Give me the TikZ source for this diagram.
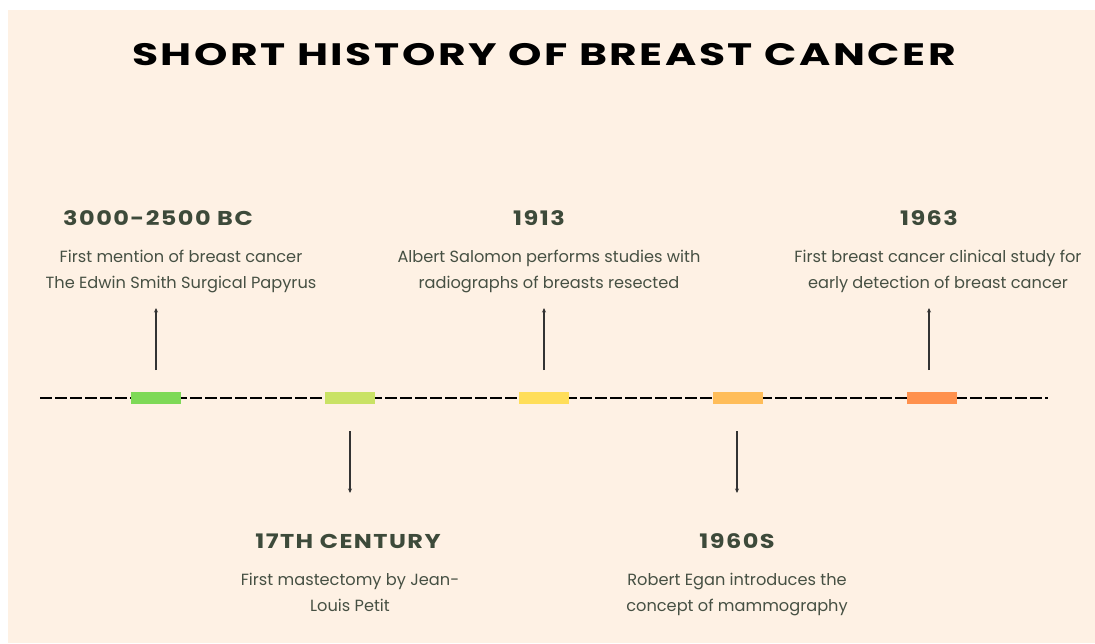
\documentclass[tikz,border=0pt]{standalone}
\usepackage{fontspec}
\setmainfont{Poppins}
\usepackage{graphicx}
\usetikzlibrary{arrows.meta}
\definecolor{bgc}{HTML}{FEF1E4}
\definecolor{headc}{HTML}{3D4A3A}
\definecolor{descc}{HTML}{465043}
\definecolor{cA}{HTML}{7ED957}
\definecolor{cB}{HTML}{C9E265}
\definecolor{cC}{HTML}{FFDE59}
\definecolor{cD}{HTML}{FFBD59}
\definecolor{cE}{HTML}{FF914D}
\newcommand{\headtext}[1]{\scalebox{1.2}[1]{\addfontfeature{LetterSpace=6}#1}}
\newcommand{\titletext}[1]{\scalebox{1.37}[1]{\addfontfeature{LetterSpace=6}#1}}
\tikzset{
  bar/.style={fill=#1, draw=none, minimum width=50pt, minimum height=12.5pt, inner sep=0pt},
  head/.style={anchor=base, inner sep=0pt, text=headc, font=\fontsize{20}{24}\selectfont\bfseries},
  desc/.style={anchor=base, inner sep=0pt, text=descc, align=center, font=\fontsize{16.2}{26}\selectfont},
  pointer/.style={draw=black!80, line width=1.2pt, -{Stealth[length=4.5pt,width=4pt]}},
  timeline/.style={draw=black, line width=2pt, dash pattern=on 11.5pt off 3.5pt}
}
\begin{document}
\begin{tikzpicture}[x=1pt,y=-1pt]
\useasboundingbox (0,0) rectangle (1095,643);
\fill[white] (0,0) rectangle (1095,643);
\fill[bgc] (8,10) rectangle (1095,643);
% title
\node[anchor=base, inner sep=0pt, font=\fontsize{31}{36}\selectfont\bfseries] (title) at (544,65) {\titletext{SHORT HISTORY OF BREAST CANCER}};
% timeline
\coordinate (tl0) at (40,398);
\coordinate (tl1) at (1048,398);
\draw[timeline] (tl0) -- (tl1);
\node[bar=cA] (b1) at (156,398) {};
\node[bar=cB] (b2) at (350,398) {};
\node[bar=cC] (b3) at (544,398) {};
\node[bar=cD] (b4) at (738,398) {};
\node[bar=cE] (b5) at (932,398) {};
% arrows
\coordinate (p1s) at (156,370); \coordinate (p1e) at (156,308);
\coordinate (p2s) at (350,431); \coordinate (p2e) at (350,493);
\coordinate (p3s) at (544,370); \coordinate (p3e) at (544,308);
\coordinate (p4s) at (737,431); \coordinate (p4e) at (737,493);
\coordinate (p5s) at (929,370); \coordinate (p5e) at (929,308);
\draw[pointer] (p1s) -- (p1e);
\draw[pointer] (p2s) -- (p2e);
\draw[pointer] (p3s) -- (p3e);
\draw[pointer] (p4s) -- (p4e);
\draw[pointer] (p5s) -- (p5e);
% texts
\node[head] (h1) at (158,225) {\headtext{3000-2500 BC}};
\node[desc] (d1) at (181,288) {First mention of breast cancer\\The Edwin Smith Surgical Papyrus};
\node[head] (h2) at (348,548) {\headtext{17TH CENTURY}};
\node[desc] (d2) at (350,611) {First mastectomy by Jean-\\Louis Petit};
\node[head] (h3) at (539,225) {\headtext{1913}};
\node[desc] (d3) at (549,288) {Albert Salomon performs studies with\\radiographs of breasts resected};
\node[head] (h4) at (737,548) {\headtext{1960S}};
\node[desc] (d4) at (737,611) {Robert Egan introduces the\\concept of mammography};
\node[head] (h5) at (929,225) {\headtext{1963}};
\node[desc] (d5) at (938,288) {First breast cancer clinical study for\\early detection of breast cancer};
\end{tikzpicture}
\end{document}
